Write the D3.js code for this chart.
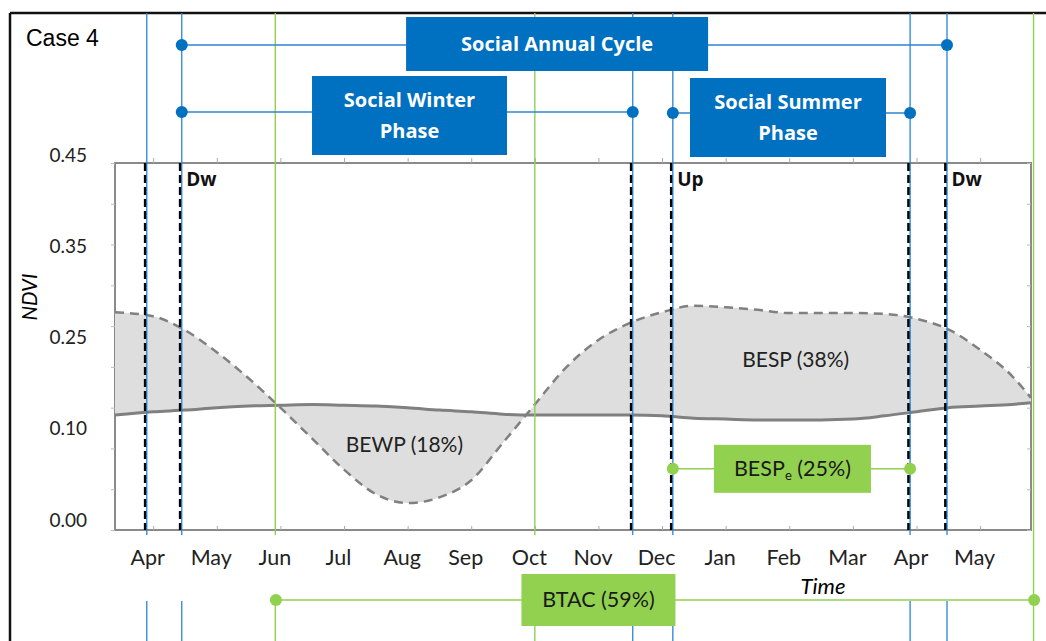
<!DOCTYPE html>
<html>
<head>
<meta charset="utf-8">
<script src="https://cdn.jsdelivr.net/npm/d3@7"></script>
<style>
  body { margin: 0; background: #fff; }
  svg { display: block; }
  .tick text { font-family: Lato, sans-serif; }
</style>
</head>
<body>
<svg id="svg1"></svg>
<script>
// month labels on the time axis (index 0 = first Apr)
var months = ['Apr','May','Jun','Jul','Aug','Sep','Oct','Nov','Dec','Jan','Feb','Mar','Apr','May'];
var yTickLabels = ['0.45','0.35','0.25','0.10','0.00'];

var sampleTimes = [-0.6,0,0.5,1,1.5,2,2.5,3,3.5,4,4.5,5,5.5,6,6.5,7,7.5,8,8.5,9,9.5,10,10.5,11,11.5,12,12.5,13,13.5,13.8];
var seasonalNdvi = [0.267,0.262,0.245,0.218,0.186,0.150,0.112,0.074,0.044,0.033,0.040,0.061,0.107,0.154,0.200,0.233,0.254,0.267,0.275,0.273,0.270,0.266,0.266,0.266,0.265,0.259,0.246,0.221,0.189,0.162];
var baselineNdvi = [0.141,0.145,0.147,0.150,0.152,0.153,0.154,0.153,0.152,0.150,0.147,0.145,0.142,0.141,0.141,0.141,0.141,0.140,0.137,0.136,0.135,0.135,0.135,0.136,0.140,0.145,0.150,0.152,0.154,0.156];

// phase boundaries (black dashed + blue lines) and their tags
var boundaryTimes = [-0.11, 0.44, 7.53, 8.16, 11.89, 12.47];
var boundaryTags = ['', 'Dw', '', 'Up', '', 'Dw'];
// green reference lines
var greenTimes = [1.92, 6.0, 13.84];

// blue phase brackets
var phaseNames = [['Social Annual Cycle'], ['Social Winter', 'Phase'], ['Social Summer', 'Phase']];
var phaseStarts = [0.44, 0.44, 8.16];
var phaseEnds = [12.47, 7.53, 11.89];
var phaseLabelAt = [6.35, 4.03, 9.98];

// green period brackets
var periodNames = ['BESPe (25%)', 'BTAC (59%)'];
var periodStarts = [8.16, 1.92];
var periodEnds = [11.89, 13.84];
var periodLabelAt = [10.05, 7.0];

// area labels
var areaNames = ['BEWP (18%)', 'BESP (38%)'];
var areaTimes = [3.95, 10.1];
var areaNdvi = [0.096, 0.200];

var W = 1046, H = 641;
var plot = {left: 115, right: 1031, top: 163, bottom: 530};
var blue = '#0070C0', blueLine = '#2b84d2', green = '#92D050';

var svg = d3.select('#svg1').attr('width', W).attr('height', H);

var x = d3.scaleLinear().domain([-0.6, 13.8]).range([plot.left, plot.right]);
var y = d3.scaleLinear().domain([0, 0.45]).range([plot.bottom, plot.top]);
var yLab = d3.scalePoint().domain(yTickLabels).range([155, 520]);

var pts = sampleTimes.map(function(t, i) {
  return {t: t, s: seasonalNdvi[i], b: baselineNdvi[i]};
});

// outer frame (cropped at right and bottom)
svg.append('line').attr('x1', 10).attr('x2', W).attr('y1', 13).attr('y2', 13)
  .attr('stroke', '#111').attr('stroke-width', 2.5);
svg.append('line').attr('x1', 10).attr('x2', 10).attr('y1', 13).attr('y2', H)
  .attr('stroke', '#111').attr('stroke-width', 2.5);

svg.append('text')
  .attr('x', 26).attr('y', 46)
  .attr('font-family', 'Liberation Sans, Arial, sans-serif')
  .attr('font-size', 23)
  .text('Case 4');

// plot box
svg.append('rect')
  .attr('x', plot.left).attr('y', plot.top)
  .attr('width', plot.right - plot.left).attr('height', plot.bottom - plot.top)
  .attr('fill', '#fff').attr('stroke', '#8a8a8a').attr('stroke-width', 2);

// area between curves
var area = d3.area()
  .curve(d3.curveMonotoneX)
  .x(function(d) { return x(d.t); })
  .y0(function(d) { return y(d.b); })
  .y1(function(d) { return y(d.s); });
svg.append('path').datum(pts).attr('d', area).attr('fill', '#dedede');

// minor ticks
var minor = d3.range(0, 0.451, 0.05);
svg.append('g').attr('transform', 'translate(' + plot.left + ',0)')
  .call(d3.axisLeft(y).tickValues(minor).tickSize(4).tickFormat(''))
  .call(function(g) { g.select('.domain').remove(); g.selectAll('line').attr('stroke', '#bbb'); });
svg.append('g').attr('transform', 'translate(' + plot.right + ',0)')
  .call(d3.axisLeft(y).tickValues(minor).tickSize(4).tickFormat(''))
  .call(function(g) { g.select('.domain').remove(); g.selectAll('line').attr('stroke', '#bbb'); });
svg.append('g').attr('transform', 'translate(0,' + plot.top + ')')
  .call(d3.axisTop(x).tickValues(d3.range(0, 14)).tickSize(5).tickFormat(''))
  .call(function(g) { g.select('.domain').remove(); g.selectAll('line').attr('stroke', '#aaa'); });
svg.append('g').attr('transform', 'translate(0,' + plot.bottom + ')')
  .call(d3.axisTop(x).tickValues(d3.range(0, 14)).tickSize(4).tickFormat(''))
  .call(function(g) { g.select('.domain').remove(); g.selectAll('line').attr('stroke', '#aaa'); });

// y tick labels
svg.append('g').attr('transform', 'translate(87,0)')
  .call(d3.axisLeft(yLab).tickSize(0).tickPadding(0))
  .call(function(g) {
    g.select('.domain').remove();
    g.selectAll('text').attr('font-size', 19).attr('fill', '#222');
  });

// month labels
svg.append('g').attr('transform', 'translate(-6,' + plot.bottom + ')')
  .call(d3.axisBottom(x).tickValues(d3.range(0, 14)).tickSize(0).tickPadding(20)
    .tickFormat(function(d) { return months[d]; }))
  .call(function(g) {
    g.select('.domain').remove();
    g.selectAll('text').attr('font-size', 21.5).attr('fill', '#222');
  });

svg.append('text')
  .attr('transform', 'translate(37,297) rotate(-90)')
  .attr('text-anchor', 'middle')
  .attr('font-family', 'Lato, sans-serif').attr('font-style', 'italic')
  .attr('font-size', 20.5)
  .text('NDVI');

svg.append('text')
  .attr('x', 823).attr('y', 594)
  .attr('text-anchor', 'middle')
  .attr('font-family', 'Lato, sans-serif').attr('font-style', 'italic')
  .attr('font-size', 22)
  .text('Time');

// curves
var baseLine = d3.line().curve(d3.curveMonotoneX)
  .x(function(d) { return x(d.t); }).y(function(d) { return y(d.b); });
var seasLine = d3.line().curve(d3.curveMonotoneX)
  .x(function(d) { return x(d.t); }).y(function(d) { return y(d.s); });
svg.append('path').datum(pts).attr('d', baseLine)
  .attr('fill', 'none').attr('stroke', '#808080').attr('stroke-width', 3);
svg.append('path').datum(pts).attr('d', seasLine)
  .attr('fill', 'none').attr('stroke', '#808080').attr('stroke-width', 2.5)
  .attr('stroke-dasharray', '9,6');

// area labels
svg.selectAll('.areaLabel')
  .data(areaNames)
  .enter().append('text')
  .attr('class', 'areaLabel')
  .attr('x', function(d, i) { return x(areaTimes[i]); })
  .attr('y', function(d, i) { return y(areaNdvi[i]); })
  .attr('text-anchor', 'middle')
  .attr('font-family', 'Lato, sans-serif').attr('font-size', 21).attr('fill', '#222')
  .text(function(d) { return d; });

// green vertical lines
greenTimes.forEach(function(t, i) {
  var last = i == greenTimes.length - 1;
  svg.append('line').attr('x1', x(t)).attr('x2', x(t)).attr('y1', 13).attr('y2', last ? H : 535)
    .attr('stroke', green).attr('stroke-width', 1.4);
  if (!last) {
    svg.append('line').attr('x1', x(t)).attr('x2', x(t)).attr('y1', 600).attr('y2', H)
      .attr('stroke', green).attr('stroke-width', 1.4);
  }
});

// boundaries: black dashed inside plot, blue lines across
boundaryTimes.forEach(function(t, i) {
  svg.append('line').attr('x1', x(t) - 0.8).attr('x2', x(t) - 0.8)
    .attr('y1', plot.top).attr('y2', plot.bottom)
    .attr('stroke', '#000').attr('stroke-width', 3).attr('stroke-dasharray', '8,4');
  svg.append('line').attr('x1', x(t) + 0.6).attr('x2', x(t) + 0.6).attr('y1', 13).attr('y2', 535)
    .attr('stroke', blueLine).attr('stroke-width', 1.3);
  svg.append('line').attr('x1', x(t) + 0.6).attr('x2', x(t) + 0.6).attr('y1', 601).attr('y2', H)
    .attr('stroke', blueLine).attr('stroke-width', 1.3);
  if (boundaryTags[i]) {
    svg.append('text')
      .attr('x', x(t) + 5).attr('y', 186)
      .attr('font-family', 'Open Sans, sans-serif').attr('font-weight', 'bold')
      .attr('font-size', 19).attr('fill', '#111')
      .text(boundaryTags[i]);
  }
});

// blue phase brackets
var phaseRows = [45, 112, 113];
var phaseBox = [{w: 302, h: 54}, {w: 195, h: 79}, {w: 196, h: 79}];
phaseNames.forEach(function(lines, i) {
  var ry = phaseRows[i];
  svg.append('line').attr('x1', x(phaseStarts[i])).attr('x2', x(phaseEnds[i]))
    .attr('y1', ry).attr('y2', ry).attr('stroke', blueLine).attr('stroke-width', 1.5);
  [phaseStarts[i], phaseEnds[i]].forEach(function(t) {
    svg.append('circle').attr('cx', x(t) + 0.6).attr('cy', ry).attr('r', 6).attr('fill', blue);
  });
  var cx = x(phaseLabelAt[i]);
  var top = i == 0 ? 17 : (i == 1 ? 76 : 78);
  svg.append('rect').attr('x', cx - phaseBox[i].w / 2).attr('y', top)
    .attr('width', phaseBox[i].w).attr('height', phaseBox[i].h).attr('fill', blue);
  var t = svg.append('text').attr('text-anchor', 'middle')
    .attr('font-family', 'Open Sans, sans-serif').attr('font-weight', 'bold')
    .attr('font-size', 20).attr('fill', '#fff');
  lines.forEach(function(s, j) {
    t.append('tspan').attr('x', cx).attr('y', lines.length == 1 ? 51 : top + 31 + j * 31).text(s);
  });
});

// green period brackets
var periodRows = [y(0.075), 600];
var periodBox = [{w: 157, h: 48}, {w: 154, h: 52}];
periodNames.forEach(function(name, i) {
  var ry = periodRows[i];
  svg.append('line').attr('x1', x(periodStarts[i])).attr('x2', x(periodEnds[i]))
    .attr('y1', ry).attr('y2', ry).attr('stroke', green).attr('stroke-width', 1.5);
  [periodStarts[i], periodEnds[i]].forEach(function(t) {
    svg.append('circle').attr('cx', x(t) + 0.6).attr('cy', ry).attr('r', 6).attr('fill', green);
  });
  var cx = x(periodLabelAt[i]);
  svg.append('rect').attr('x', cx - periodBox[i].w / 2).attr('y', ry - periodBox[i].h / 2)
    .attr('width', periodBox[i].w).attr('height', periodBox[i].h).attr('fill', green);
  var t = svg.append('text').attr('x', cx).attr('y', ry + 7).attr('text-anchor', 'middle')
    .attr('font-family', 'Lato, sans-serif').attr('font-size', 21.5).attr('fill', '#1a1a1a');
  if (name.indexOf('BESPe') == 0) {
    t.append('tspan').text('BESP');
    t.append('tspan').attr('font-size', 13).attr('dy', 4).text('e');
    t.append('tspan').attr('dy', -4).text(name.slice(5));
  } else {
    t.text(name);
  }
});
</script>
</body>
</html>
